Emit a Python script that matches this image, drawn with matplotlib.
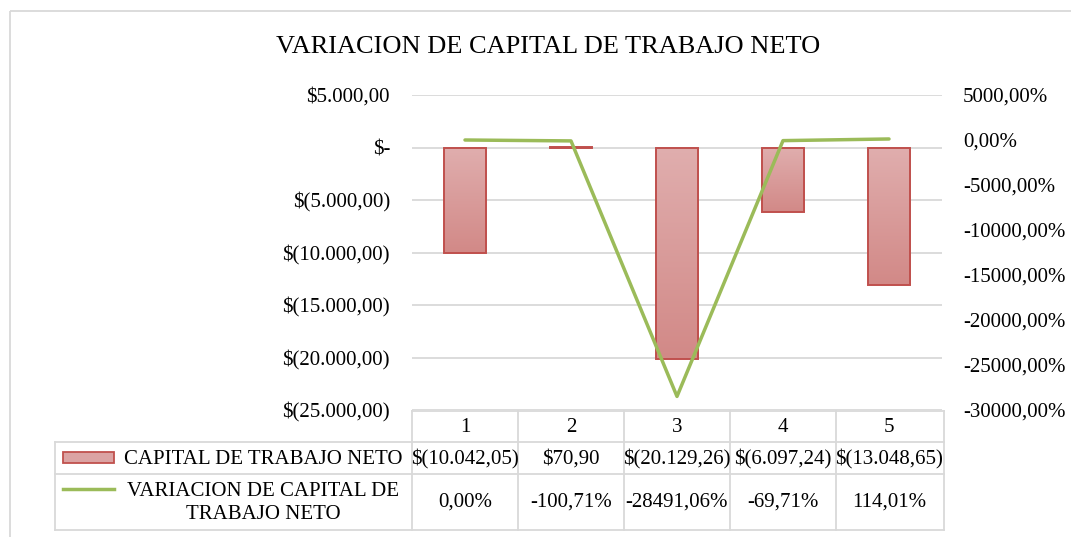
import numpy as np
import matplotlib
matplotlib.use("Agg")
import matplotlib.pyplot as plt
from matplotlib.colors import LinearSegmentedColormap
from matplotlib.patches import Rectangle
from matplotlib.lines import Line2D

# ---------------- data ----------------
periods = ["1", "2", "3", "4", "5"]
capital = [-10042.05, 70.90, -20129.26, -6097.24, -13048.65]
variacion = [0.00, -100.71, -28491.06, -69.71, 114.01]
title = "VARIACION DE CAPITAL DE TRABAJO NETO"
serie1_name = "CAPITAL DE TRABAJO NETO"
serie2_name = "VARIACION DE CAPITAL DE\nTRABAJO NETO"
left_ticks = [5000, 0, -5000, -10000, -15000, -20000, -25000]
right_ticks = [5000, 0, -5000, -10000, -15000, -20000, -25000, -30000]

plt.rcParams['font.family'] = ['Liberation Serif', 'DejaVu Serif']

W, H = 1071, 537
fig = plt.figure(figsize=(W / 100, H / 100), dpi=100)

def money(v):
    if abs(v) < 1e-9:
        return "$-"
    s = f"{abs(v):,.2f}".replace(",", "X").replace(".", ",").replace("X", ".")
    return f"$({s})" if v < 0 else f"${s}"

def pct(v):
    return f"{v:.2f}%".replace(".", ",")

FS = 15
grid_c = "#d9d9d9"
bar_edge = "#c0504d"
line_c = "#9bbb59"

# ---------------- overlay (frame, title, table) ----------------
ov = fig.add_axes([0, 0, 1, 1], zorder=0)
ov.set_xlim(0, W)
ov.set_ylim(H, 0)
ov.axis("off")
ov.add_patch(Rectangle((10, 11), W + 20, H + 20, fill=False, edgecolor=grid_c, lw=1.3))
ov.text(548, 47, title, ha="center", va="center", fontsize=19)

# ---------------- main axes ----------------
px0, px1, py0, py1 = 412, 942, 95, 410
ax = fig.add_axes([px0 / W, 1 - py1 / H, (px1 - px0) / W, (py1 - py0) / H], zorder=2)
ax.patch.set_visible(False)
x = np.arange(1, len(periods) + 1)
ax.set_xlim(0.5, len(periods) + 0.5)
ax.set_ylim(-25000, 5000)
ax.set_yticks(left_ticks)
ax.set_yticklabels([money(v) for v in left_ticks])
ax.set_xticks([])
ax.tick_params(axis="y", length=0, pad=22 * 0.72, labelsize=FS)
ax.grid(axis="y", color=grid_c, lw=1.3)
ax.set_axisbelow(True)
for s in ax.spines.values():
    s.set_visible(False)

bars = ax.bar(x, capital, width=0.4, facecolor="none", edgecolor=bar_edge, lw=1.4, zorder=3)
cmap = LinearSegmentedColormap.from_list("g", ["#e0aeae", "#d28987"])
grad = np.linspace(0, 1, 256).reshape(-1, 1)
for b in bars:
    bx, by = b.get_x(), b.get_y()
    bw, bh = b.get_width(), b.get_height()
    y_top, y_bot = max(by, by + bh), min(by, by + bh)
    im = ax.imshow(grad, cmap=cmap, aspect="auto", origin="upper",
                   extent=[bx, bx + bw, y_bot, y_top], zorder=2.5)
    im.set_clip_path(b)
ax.set_xlim(0.5, len(periods) + 0.5)
ax.set_ylim(-25000, 5000)

ax2 = ax.twinx()
ax2.set_ylim(-30000, 5000)
ax2.set_yticks(right_ticks)
ax2.set_yticklabels([pct(v) for v in right_ticks])
ax2.tick_params(axis="y", length=0, pad=21 * 0.72, labelsize=FS)
for s in ax2.spines.values():
    s.set_visible(False)
ax2.plot(x, variacion, color=line_c, lw=2.5, solid_capstyle="round", zorder=5)

# ---------------- data table ----------------
tl, tr = 55, 944
r0, r1, r2, r3 = 411, 442, 474, 530
cw = (px1 - px0) / len(periods)
tlw = 1.3
ov.plot([px0, tr], [r0, r0], color=grid_c, lw=tlw)
for yy in (r1, r2, r3):
    ov.plot([tl, tr], [yy, yy], color=grid_c, lw=tlw)
ov.plot([tl, tl], [r1, r3], color=grid_c, lw=tlw)
for i in range(len(periods) + 1):
    xx = px0 + i * cw if i < len(periods) else tr
    ov.plot([xx, xx], [r0, r3], color=grid_c, lw=tlw)

for i, p in enumerate(periods):
    cx = px0 + (i + 0.5) * cw
    ov.text(cx, (r0 + r1) / 2 + 1, p, ha="center", va="center", fontsize=FS)
    ov.text(cx, (r1 + r2) / 2 + 1, money(capital[i]), ha="center", va="center", fontsize=FS)
    ov.text(cx, (r2 + r3) / 2, pct(variacion[i]), ha="center", va="center", fontsize=FS)

ov.add_patch(Rectangle((63, 452), 51, 11, facecolor="#dba3a3", edgecolor=bar_edge, lw=1.3))
ov.text(263, (r1 + r2) / 2 + 1, serie1_name, ha="center", va="center", fontsize=FS)
ov.add_line(Line2D([63, 114], [489, 489], color=line_c, lw=2.5))
ov.text(263, (r2 + r3) / 2 + 1, serie2_name, ha="center", va="center", fontsize=FS,
        multialignment="center", linespacing=1.25)

fig.savefig("out.png", dpi=100)
